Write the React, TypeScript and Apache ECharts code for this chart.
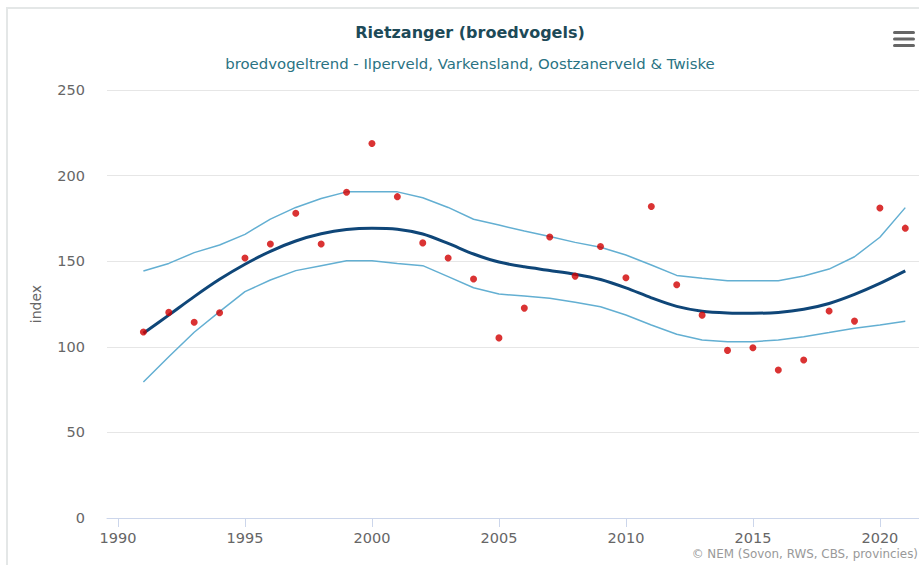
import React, { useEffect, useRef } from "react";
import * as echarts from "echarts";

const years = [1991,1992,1993,1994,1995,1996,1997,1998,1999,2000,2001,2002,2003,2004,2005,2006,2007,2008,2009,2010,2011,2012,2013,2014,2015,2016,2017,2018,2019,2020,2021];
const observed = [108.6,120.1,114.3,119.9,151.9,160,178,160,190.3,218.8,187.7,160.7,151.9,139.6,105.2,122.6,164.1,141.3,158.6,140.3,182,136.2,118.5,97.9,99.4,86.4,92.3,120.9,115,181.1,169.3];
const trend = [107.9,118.5,129.3,139.4,148.2,155.8,161.8,166.0,168.5,169.3,168.7,165.9,160.4,154.2,149.5,146.7,144.6,142.4,139.3,134.4,128.6,123.6,120.8,119.8,119.6,120.1,121.9,125.3,130.6,137.0,144.3];
const upper = [144.3,148.7,155,159.5,165.7,174.6,181.4,186.6,190.5,190.5,190.5,187.1,181.4,174.5,171.1,167.6,164.4,161,158.1,153.6,147.8,141.7,140,138.6,138.6,138.6,141.4,145.4,152.6,164,181.3];
const lower = [79.4,94.2,108.5,120.5,132.2,139,144.5,147.4,150.3,150.3,148.7,147.4,141,134.5,130.8,129.7,128.3,126,123.4,118.6,112.7,107.3,104,103,103,104,105.9,108.3,110.8,112.7,114.9];
const xTicks = [1990,1995,2000,2005,2010,2015,2020];

const titleText = "Rietzanger (broedvogels)";
const subtitleText = "broedvogeltrend - Ilperveld, Varkensland, Oostzanerveld & Twiske";
const creditText = "© NEM (Sovon, RWS, CBS, provincies)";

export default function App() {
  const ref = useRef<HTMLDivElement>(null);
  useEffect(() => {
    if (!ref.current) return;
    const chart = echarts.init(ref.current, null, { renderer: "svg" });
    const pair = (arr: number[]) => years.map((y, i) => [y, arr[i]]);
    const font = "'DejaVu Sans', sans-serif";
    chart.setOption({
      animation: false,
      backgroundColor: "#ffffff",
      title: [
        {
          text: titleText,
          left: 465,
          top: 19,
          textAlign: "center",
          textStyle: { color: "#1d4a58", fontSize: 16, fontWeight: "bold", fontFamily: font },
        },
        {
          text: subtitleText,
          left: 465,
          top: 51,
          textAlign: "center",
          textStyle: { color: "#2a7383", fontSize: 14.9, fontWeight: "normal", fontFamily: font },
        },
      ],
      grid: { left: 107, right: 0, top: 90, bottom: 47, containLabel: false },
      xAxis: {
        type: "value",
        min: 1989.567,
        max: 2021.54,
        splitLine: { show: false },
        axisLine: { show: true, lineStyle: { color: "#ccd6eb", width: 1 } },
        axisTick: { show: true, customValues: xTicks, length: 9, lineStyle: { color: "#ccd6eb" } },
        axisLabel: {
          customValues: xTicks,
          color: "#666666",
          fontSize: 14.5,
          margin: 12,
          fontFamily: font,
          formatter: (v: number) => String(Math.round(v)),
        },
      },
      yAxis: {
        type: "value",
        min: 0,
        max: 250,
        interval: 50,
        name: "index",
        nameLocation: "middle",
        nameRotate: 90,
        nameGap: 64,
        nameTextStyle: { color: "#666666", fontSize: 14, fontFamily: font },
        axisLine: { show: false },
        axisTick: { show: false },
        axisLabel: { color: "#666666", fontSize: 14.5, margin: 22, fontFamily: font },
        splitLine: { lineStyle: { color: "#e6e6e6", width: 1 } },
      },
      graphic: [
        { type: "rect", shape: { x: 6, y: 7, width: 913, height: 2 }, style: { fill: "#e4e7e7" }, silent: true },
        { type: "rect", shape: { x: 6, y: 7, width: 2, height: 558 }, style: { fill: "#e4e7e7" }, silent: true },
        { type: "rect", shape: { x: 893, y: 31, width: 22, height: 3, r: 1.5 }, style: { fill: "#666666" } },
        { type: "rect", shape: { x: 893, y: 37.5, width: 22, height: 3, r: 1.5 }, style: { fill: "#666666" } },
        { type: "rect", shape: { x: 893, y: 44, width: 22, height: 3, r: 1.5 }, style: { fill: "#666666" } },
        {
          type: "text",
          right: 1,
          top: 548,
          style: { text: creditText, fill: "#999999", fontSize: 11.9, fontFamily: font },
        },
      ],
      series: [
        {
          type: "line",
          name: "upper",
          data: pair(upper),
          showSymbol: false,
          lineStyle: { color: "#63afd2", width: 1.5 },
          z: 2,
        },
        {
          type: "line",
          name: "lower",
          data: pair(lower),
          showSymbol: false,
          lineStyle: { color: "#63afd2", width: 1.5 },
          z: 2,
        },
        {
          type: "line",
          name: "trend",
          data: pair(trend),
          showSymbol: false,
          smooth: 0.3,
          lineStyle: { color: "#0f4678", width: 3 },
          z: 3,
        },
        {
          type: "scatter",
          name: "index",
          data: pair(observed),
          symbolSize: 7,
          itemStyle: { color: "#d10000" },
          z: 4,
        },
      ],
    });
    return () => chart.dispose();
  }, []);
  return (
    <div
      ref={ref}
      style={{ position: "absolute", left: 0, top: 0, width: 919, height: 565 }}
    />
  );
}
